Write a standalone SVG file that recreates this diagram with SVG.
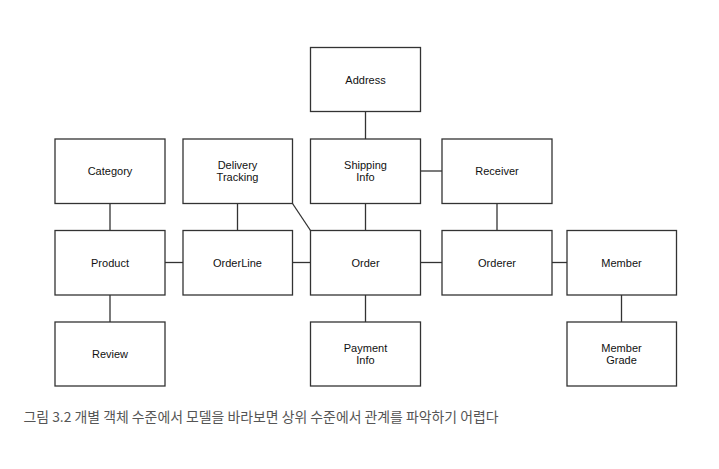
<svg xmlns="http://www.w3.org/2000/svg" width="719" height="469" viewBox="0 0 719 469">
<style>
.box{fill:#fff;stroke:#333;stroke-width:1.3}
.lbl{font-family:"Liberation Sans",Arial,sans-serif;font-size:11px;fill:#111;text-anchor:middle}
.conn line{stroke:#333;stroke-width:1.3}
.cap{font-family:"Noto Sans CJK KR","Noto Sans",sans-serif;font-size:13.5px;fill:#555}
</style>
<rect width="719" height="469" fill="#fff"/>
<g id="connectors" class="conn">
<line x1="365.5" y1="111.5" x2="365.5" y2="139"/>
<line x1="110" y1="203.5" x2="110" y2="230.5"/>
<line x1="237.5" y1="203.5" x2="237.5" y2="230.5"/>
<line x1="292.5" y1="203.5" x2="310.5" y2="230.5"/>
<line x1="365.5" y1="203.5" x2="365.5" y2="230.5"/>
<line x1="497" y1="203.5" x2="497" y2="230.5"/>
<line x1="420.5" y1="171" x2="442" y2="171"/>
<line x1="165" y1="262.5" x2="183" y2="262.5"/>
<line x1="292.5" y1="262.5" x2="310.5" y2="262.5"/>
<line x1="420.5" y1="262.5" x2="442" y2="262.5"/>
<line x1="552" y1="262.5" x2="567" y2="262.5"/>
<line x1="110" y1="295" x2="110" y2="322"/>
<line x1="365.5" y1="295" x2="365.5" y2="322"/>
<line x1="621.5" y1="295" x2="621.5" y2="322"/>
</g>
<g id="address"><rect class="box" x="310.5" y="47.5" width="110" height="64"/><text class="lbl" x="365.5" y="83.5">Address</text></g>
<g id="category"><rect class="box" x="55" y="139" width="110" height="64.5"/><text class="lbl" x="110" y="175">Category</text></g>
<g id="delivery-tracking"><rect class="box" x="183" y="139" width="109.5" height="64.5"/><text class="lbl" x="237.5" y="169">Delivery</text><text class="lbl" x="237.5" y="181">Tracking</text></g>
<g id="shipping-info"><rect class="box" x="310.5" y="139" width="110" height="64.5"/><text class="lbl" x="365.5" y="169">Shipping</text><text class="lbl" x="365.5" y="181">Info</text></g>
<g id="receiver"><rect class="box" x="442" y="139" width="110" height="64.5"/><text class="lbl" x="497" y="175">Receiver</text></g>
<g id="product"><rect class="box" x="55" y="230.5" width="110" height="64.5"/><text class="lbl" x="110" y="266.5">Product</text></g>
<g id="orderline"><rect class="box" x="183" y="230.5" width="109.5" height="64.5"/><text class="lbl" x="237.5" y="266.5">OrderLine</text></g>
<g id="order"><rect class="box" x="310.5" y="230.5" width="110" height="64.5"/><text class="lbl" x="365.5" y="266.5">Order</text></g>
<g id="orderer"><rect class="box" x="442" y="230.5" width="110" height="64.5"/><text class="lbl" x="497" y="266.5">Orderer</text></g>
<g id="member"><rect class="box" x="567" y="230.5" width="109.5" height="64.5"/><text class="lbl" x="621.5" y="266.5">Member</text></g>
<g id="review"><rect class="box" x="55" y="322" width="110" height="64"/><text class="lbl" x="110" y="358">Review</text></g>
<g id="payment-info"><rect class="box" x="310.5" y="322" width="110" height="64"/><text class="lbl" x="365.5" y="352">Payment</text><text class="lbl" x="365.5" y="364">Info</text></g>
<g id="member-grade"><rect class="box" x="567" y="322" width="109.5" height="64"/><text class="lbl" x="621.5" y="352">Member</text><text class="lbl" x="621.5" y="364">Grade</text></g>
<text class="cap" x="23.5" y="422" textLength="475" lengthAdjust="spacingAndGlyphs">그림 3.2 개별 객체 수준에서 모델을 바라보면 상위 수준에서 관계를 파악하기 어렵다</text>
</svg>
